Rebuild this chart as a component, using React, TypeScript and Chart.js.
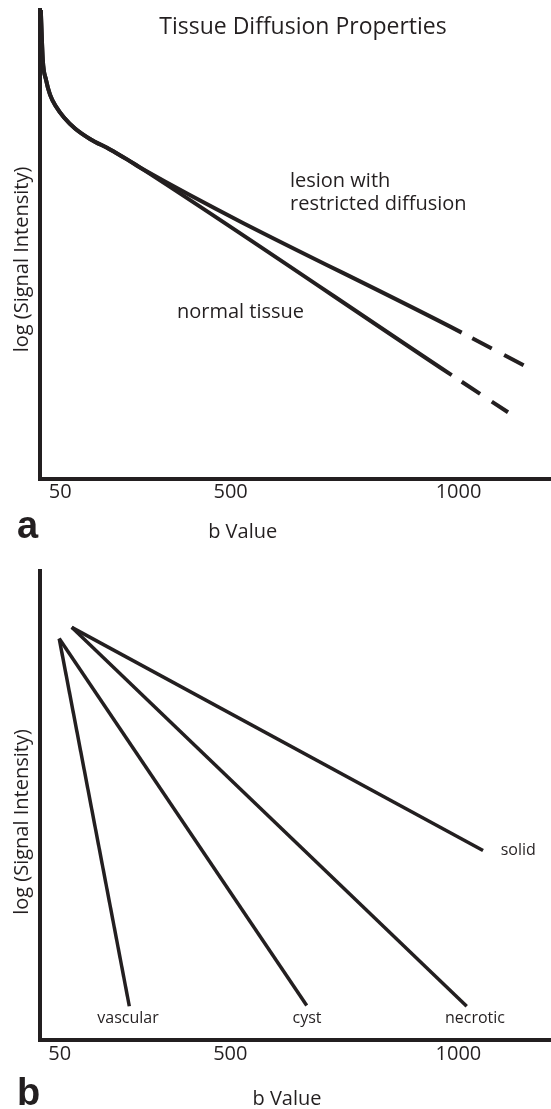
import React, { useEffect, useRef } from 'react';
import { Chart, registerables } from 'chart.js';

Chart.register(...registerables);

const INK = '#231f20';
const FONT = "'Open Sans', 'Noto Sans', sans-serif";
const LETTER_FONT = "'Liberation Sans', Arial, sans-serif";

// ---- shared axis ticks (x positions are relative positions along the b-value axis, 0..100) ----
const xTickLabels = ['50', '500', '1000'];
const xTickPositions = [3.95, 37.3, 81.9];

// ---- panel a: Tissue Diffusion Properties (relative units, 0..100) ----
const earlyCurveX = [0.16, 0.55, 1.17, 1.96, 3.13, 4.7, 6.85, 9.78, 13.7, 17.03, 20.16];
const earlyCurveY = [100, 89.38, 85.13, 81.95, 79.4, 77.06, 74.72, 72.49, 70.26, 68.13, 66.01];
// solid end, then end of the dashed extrapolation
const lesionTailX = [82.52, 94.72];
const lesionTailY = [31.17, 24.16];
const normalTailX = [80.57, 91.59];
const normalTailY = [22.09, 14.17];

// ---- panel b: decay by tissue type (start point, end point) ----
const vascularX = [3.85, 17.56];
const vascularY = [85.53, 7.14];
const cystX = [3.85, 52.24];
const cystY = [85.53, 7.29];
const necroticX = [6.3, 83.52];
const necroticY = [87.92, 7.14];
const solidX = [6.3, 86.71];
const solidY = [87.92, 40.34];

type TextItem = {
  text: string;
  x: number;
  y: number;
  size: number;
  data?: boolean;
  align?: CanvasTextAlign;
  rotate?: boolean;
  weight?: string;
  family?: string;
};

const toPoints = (xs: number[], ys: number[]) => xs.map((x, i) => ({ x, y: ys[i] }));

function textPlugin(items: TextItem[]) {
  return {
    id: 'figureText',
    afterDraw(chart: any) {
      const ctx = chart.ctx as CanvasRenderingContext2D;
      const sx = chart.scales.x;
      const sy = chart.scales.y;
      items.forEach((it) => {
        ctx.save();
        ctx.fillStyle = INK;
        ctx.font = `${it.weight || 'normal'} ${it.size}px ${it.family || FONT}`;
        ctx.textAlign = it.align || 'left';
        ctx.textBaseline = 'alphabetic';
        const px = it.data ? sx.getPixelForValue(it.x) : it.x;
        const py = it.data ? sy.getPixelForValue(it.y) : it.y;
        ctx.translate(px, py);
        if (it.rotate) ctx.rotate(-Math.PI / 2);
        ctx.fillText(it.text, 0, 0);
        ctx.restore();
      });
    },
  };
}

function scalesFor(tickPadding: number) {
  return {
    x: {
      type: 'linear',
      min: 0,
      max: 100,
      grid: { display: false, drawTicks: false },
      border: { display: true, width: 4, color: INK },
      afterBuildTicks: (scale: any) => {
        scale.ticks = xTickPositions.map((v) => ({ value: v }));
      },
      ticks: {
        autoSkip: false,
        maxRotation: 0,
        padding: tickPadding,
        color: INK,
        font: { family: FONT, size: 20 },
        callback: (_v: any, i: number) => xTickLabels[i],
      },
    },
    y: {
      type: 'linear',
      min: 0,
      max: 100,
      grid: { display: false, drawTicks: false },
      border: { display: true, width: 4, color: INK },
      ticks: { display: false },
    },
  };
}

function buildConfigA(): any {
  const lesion = toPoints(earlyCurveX.concat(lesionTailX), earlyCurveY.concat(lesionTailY));
  const normal = toPoints(earlyCurveX.concat(normalTailX), earlyCurveY.concat(normalTailY));
  const dashedLast = (n: number) => ({
    borderDash: (c: any) => (c.p0DataIndex === n - 2 ? [22, 14] : undefined),
    borderDashOffset: (c: any) => (c.p0DataIndex === n - 2 ? 24 : undefined),
  });
  const common = {
    borderColor: INK,
    borderWidth: 4,
    pointRadius: 0,
    cubicInterpolationMode: 'monotone',
    borderCapStyle: 'butt',
    borderJoinStyle: 'round',
    fill: false,
    clip: false,
  };
  return {
    type: 'line',
    data: {
      datasets: [
        { label: 'lesion with restricted diffusion', data: lesion, ...common, segment: dashedLast(lesion.length) },
        { label: 'normal tissue', data: normal, ...common, segment: dashedLast(normal.length) },
      ],
    },
    options: {
      responsive: false,
      animation: false,
      events: [],
      layout: { padding: { left: 40, top: 10, right: 0, bottom: 48.3 } },
      plugins: { legend: { display: false }, tooltip: { enabled: false }, title: { display: false } },
      scales: scalesFor(2),
    },
    plugins: [
      textPlugin([
        { text: 'Tissue Diffusion Properties', x: 303, y: 34.3, size: 23, align: 'center' },
        { text: 'lesion with', x: 48.92, y: 62.3, size: 20, data: true },
        { text: 'restricted diffusion', x: 48.92, y: 57.3, size: 20, data: true },
        { text: 'normal tissue', x: 26.8, y: 34.35, size: 20, data: true },
        { text: 'log (Signal Intensity)', x: 27.9, y: 259.5, size: 20, align: 'center', rotate: true },
        { text: 'b Value', x: 242.7, y: 538, size: 20, align: 'center' },
        { text: 'a', x: 17, y: 538, size: 38, weight: 'bold', family: LETTER_FONT },
      ]),
    ],
  };
}

function buildConfigB(): any {
  const common = {
    borderColor: INK,
    borderWidth: 3.5,
    pointRadius: 0,
    tension: 0,
    borderCapStyle: 'butt',
    fill: false,
    clip: false,
  };
  return {
    type: 'line',
    data: {
      datasets: [
        { label: 'vascular', data: toPoints(vascularX, vascularY), ...common },
        { label: 'cyst', data: toPoints(cystX, cystY), ...common },
        { label: 'necrotic', data: toPoints(necroticX, necroticY), ...common },
        { label: 'solid', data: toPoints(solidX, solidY), ...common },
      ],
    },
    options: {
      responsive: false,
      animation: false,
      events: [],
      layout: { padding: { left: 39.5, top: 15.7, right: 0, bottom: 39.3 } },
      plugins: { legend: { display: false }, tooltip: { enabled: false }, title: { display: false } },
      scales: scalesFor(3),
    },
    plugins: [
      textPlugin([
        { text: 'vascular', x: 17.3, y: 3.64, size: 16, data: true, align: 'center' },
        { text: 'cyst', x: 52.3, y: 3.64, size: 16, data: true, align: 'center' },
        { text: 'necrotic', x: 85.14, y: 3.64, size: 16, data: true, align: 'center' },
        { text: 'solid', x: 90.17, y: 39.34, size: 16, data: true },
        { text: 'log (Signal Intensity)', x: 27.9, y: 267, size: 20, align: 'center', rotate: true },
        { text: 'b Value', x: 287, y: 550.3, size: 20, align: 'center' },
        { text: 'b', x: 17, y: 550, size: 38, weight: 'bold', family: LETTER_FONT },
      ]),
    ],
  };
}

function Panel({ top, height, build }: { top: number; height: number; build: () => any }) {
  const ref = useRef<HTMLCanvasElement | null>(null);
  useEffect(() => {
    if (!ref.current) return;
    const chart = new Chart(ref.current, build());
    return () => chart.destroy();
  }, [build]);
  return (
    <canvas
      ref={ref}
      width={551}
      height={height}
      style={{ position: 'absolute', left: 0, top, width: 551, height, display: 'block' }}
    />
  );
}

export default function App() {
  return (
    <div style={{ position: 'absolute', left: 0, top: 0, width: 551, height: 1109, background: '#ffffff' }}>
      <Panel top={0} height={555} build={buildConfigA} />
      <Panel top={555} height={554} build={buildConfigB} />
    </div>
  );
}
